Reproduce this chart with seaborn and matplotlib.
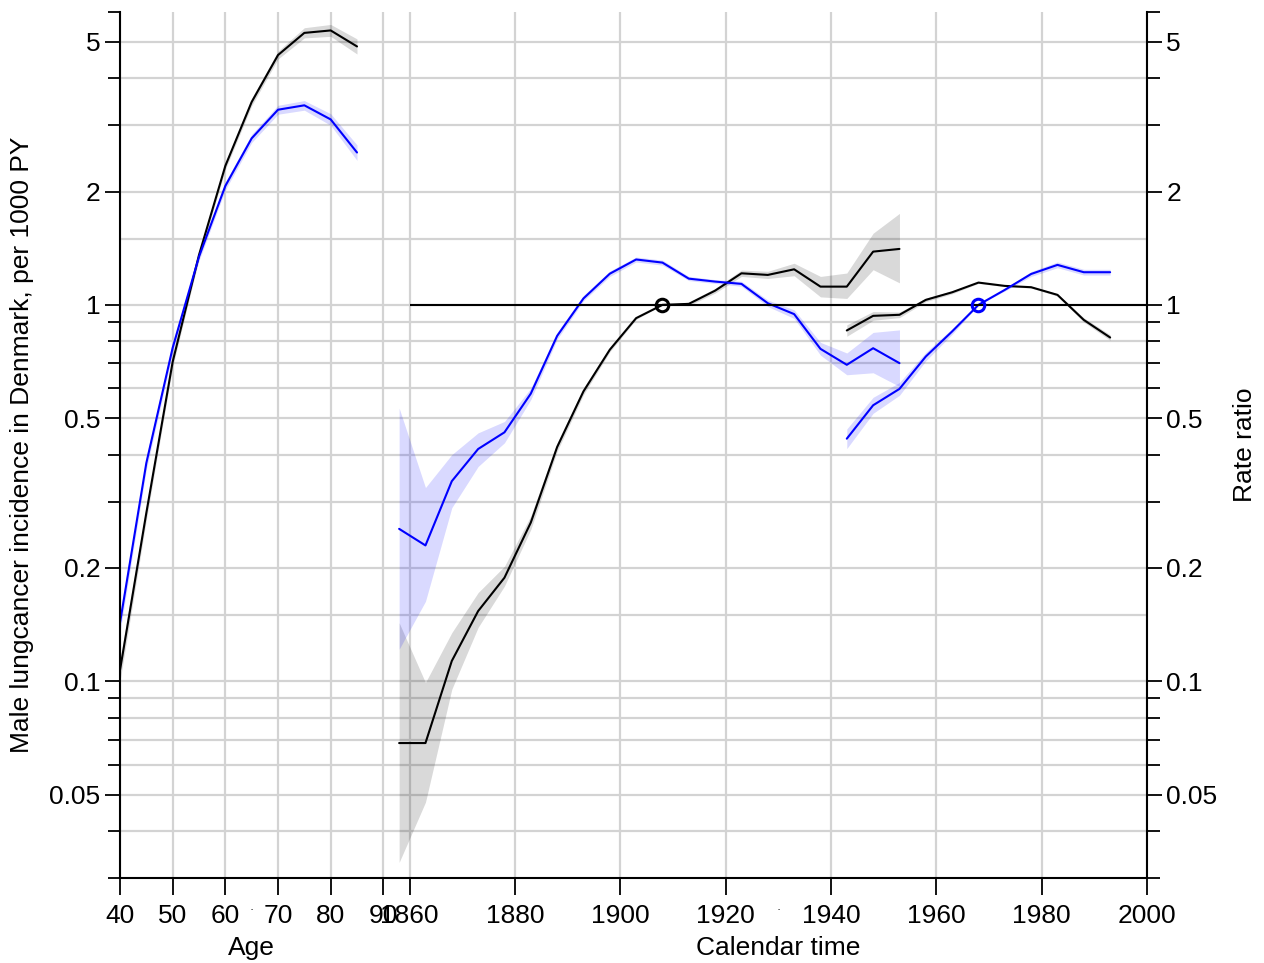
import matplotlib
matplotlib.use("Agg")
import matplotlib.pyplot as plt
import matplotlib.transforms as mtransforms
import numpy as np
import pandas as pd
import seaborn as sns

# ---- Age effects (rates per 1000 PY) ----
age = [40, 45, 50, 55, 60, 65, 70, 75, 80, 85]
age_black = [0.107, 0.28, 0.706, 1.357, 2.34, 3.46, 4.61, 5.28, 5.36, 4.86]
age_black_lo = [0.100, 0.268, 0.685, 1.325, 2.29, 3.38, 4.50, 5.12, 5.17, 4.64]
age_black_hi = [0.114, 0.292, 0.727, 1.39, 2.39, 3.54, 4.72, 5.45, 5.56, 5.09]
age_blue = [0.143, 0.38, 0.769, 1.343, 2.07, 2.77, 3.30, 3.39, 3.11, 2.54]
age_blue_lo = [0.135, 0.365, 0.745, 1.31, 2.02, 2.70, 3.21, 3.29, 3.00, 2.42]
age_blue_hi = [0.151, 0.395, 0.793, 1.376, 2.12, 2.84, 3.39, 3.49, 3.22, 2.66]

# ---- Cohort effects (rate ratios) ----
cohort = [1858, 1863, 1868, 1873, 1878, 1883, 1888, 1893, 1898, 1903,
          1908, 1913, 1918, 1923, 1928, 1933, 1938, 1943, 1948, 1953]
coh_black = [0.0685, 0.0685, 0.1132, 0.1536, 0.1884, 0.264, 0.419, 0.589, 0.760, 0.922,
             1.0, 1.006, 1.091, 1.213, 1.201, 1.243, 1.118, 1.118, 1.385, 1.408]
coh_black_lo = [0.033, 0.0477, 0.0952, 0.139, 0.179, 0.253, 0.408, 0.577, 0.750, 0.915,
                1.0, 0.995, 1.075, 1.19, 1.175, 1.195, 1.05, 1.04, 1.24, 1.144]
coh_black_hi = [0.143, 0.0992, 0.1346, 0.172, 0.202, 0.275, 0.43, 0.601, 0.770, 0.929,
                1.0, 1.017, 1.107, 1.237, 1.228, 1.29, 1.19, 1.215, 1.55, 1.75]
coh_blue = [0.254, 0.2295, 0.340, 0.414, 0.4585, 0.581, 0.827, 1.04, 1.21, 1.32,
            1.295, 1.174, 1.153, 1.137, 1.01, 0.945, 0.764, 0.693, 0.767, 0.700]
coh_blue_lo = [0.1216, 0.163, 0.289, 0.372, 0.43, 0.56, 0.81, 1.025, 1.19, 1.30,
               1.275, 1.16, 1.14, 1.12, 0.99, 0.92, 0.735, 0.652, 0.66, 0.607]
coh_blue_hi = [0.532, 0.327, 0.40, 0.457, 0.49, 0.60, 0.845, 1.06, 1.23, 1.34,
               1.315, 1.19, 1.167, 1.155, 1.03, 0.97, 0.795, 0.745, 0.845, 0.858]

# ---- Period effects (rate ratios) ----
period = [1943, 1948, 1953, 1958, 1963, 1968, 1973, 1978, 1983, 1988, 1993]
per_black = [0.855, 0.935, 0.941, 1.031, 1.08, 1.146, 1.123, 1.114, 1.063, 0.912, 0.819]
per_black_lo = [0.825, 0.91, 0.925, 1.02, 1.07, 1.14, 1.118, 1.108, 1.055, 0.90, 0.805]
per_black_hi = [0.885, 0.96, 0.957, 1.042, 1.09, 1.152, 1.128, 1.12, 1.071, 0.924, 0.833]
per_blue = [0.441, 0.541, 0.598, 0.729, 0.850, 1.0, 1.096, 1.208, 1.277, 1.221, 1.221]
per_blue_lo = [0.415, 0.515, 0.575, 0.71, 0.835, 1.0, 1.088, 1.19, 1.255, 1.20, 1.20]
per_blue_hi = [0.468, 0.568, 0.622, 0.748, 0.865, 1.0, 1.104, 1.226, 1.30, 1.243, 1.243]

# Reference points (rate ratio = 1)
ref_black_cohort = 1908
ref_blue_period = 1968

# ---- Axis layout ----
age_ticks = [40, 50, 60, 70, 80, 90]
cal_ticks = [1860, 1880, 1900, 1920, 1940, 1960, 1980, 2000]
r_major = [5, 2, 1, 0.5, 0.2, 0.1, 0.05]
r_major_labels = ["5", "2", "1", "0.5", "0.2", "0.1", "0.05"]
r_minor = [4, 3, 0.9, 0.8, 0.7, 0.6, 0.4, 0.3, 0.09, 0.08, 0.07, 0.06, 0.04]
r_grid = [5, 4, 3, 2, 1.5, 1, 0.9, 0.8, 0.7, 0.6, 0.5, 0.4, 0.3, 0.2, 0.15,
          0.1, 0.09, 0.08, 0.07, 0.06, 0.05, 0.04]
CP_OFFSET = 1765  # calendar years share the age scale, shifted by this amount

sns.set_theme(style="white")
plt.rcParams["font.family"] = ["Liberation Sans", "DejaVu Sans"]
plt.rcParams["text.color"] = "black"
plt.rcParams["xtick.color"] = "black"
plt.rcParams["ytick.color"] = "black"
plt.rcParams["axes.labelcolor"] = "black"
FS = 19

W, H = 1264, 963
fig = plt.figure(figsize=(W / 100, H / 100), dpi=100)
ax = fig.add_axes([120 / W, (H - 878) / H, 1027 / W, 866 / H])
ax.set_yscale("log")
ax.set_xlim(40, 2000 - CP_OFFSET)
ax.set_ylim(0.03, 6)

grid_col = "#D3D3D3"
x0, x1 = 40, 2000 - CP_OFFSET
ax.hlines(r_grid, x0, x1, color=grid_col, lw=1.6, zorder=0)
ax.vlines(age_ticks + [c - CP_OFFSET for c in cal_ticks], 0.03, 6,
          color=grid_col, lw=1.6, zorder=0)

blue = "#0000FF"
band_black = (0, 0, 0, 0.15)
band_blue = (0, 0, 1, 0.15)


def draw(x, y, lo, hi, color, band, shift=0):
    xs = [v - shift for v in x]
    ax.fill_between(xs, lo, hi, color=band, lw=0, zorder=1)
    df = pd.DataFrame({"x": xs, "y": y})
    sns.lineplot(data=df, x="x", y="y", ax=ax, color=color, lw=1.5,
                 estimator=None, sort=False, zorder=2)


draw(age, age_black, age_black_lo, age_black_hi, "black", band_black)
draw(age, age_blue, age_blue_lo, age_blue_hi, blue, band_blue)
draw(cohort, coh_black, coh_black_lo, coh_black_hi, "black", band_black, CP_OFFSET)
draw(cohort, coh_blue, coh_blue_lo, coh_blue_hi, blue, band_blue, CP_OFFSET)
draw(period, per_black, per_black_lo, per_black_hi, "black", band_black, CP_OFFSET)
draw(period, per_blue, per_blue_lo, per_blue_hi, blue, band_blue, CP_OFFSET)

# Rate ratio reference line and reference points
ax.hlines(1, 1860 - CP_OFFSET, 2000 - CP_OFFSET, color="black", lw=1.5, zorder=3)
ax.plot([ref_black_cohort - CP_OFFSET], [1], "o", ms=9, mfc="none", mec="black",
        mew=2.2, zorder=4)
ax.plot([ref_blue_period - CP_OFFSET], [1], "o", ms=9, mfc="none", mec=blue,
        mew=2.2, zorder=4)

# Frame
ax.spines["top"].set_visible(False)
for s in ["left", "right", "bottom"]:
    ax.spines[s].set_visible(True)
    ax.spines[s].set_color("black")
    ax.spines[s].set_linewidth(1.5)

# Y ticks on both sides
ax.set_yticks(r_major, r_major_labels)
ax.set_yticks(r_minor + [0.03, 6], minor=True)
ax.yaxis.set_minor_formatter(matplotlib.ticker.NullFormatter())
ax.tick_params(axis="y", which="both", left=True, right=True, labelleft=True,
               labelright=True, direction="out", color="black", width=1.3,
               labelsize=FS, labelcolor="black")
ax.tick_params(axis="y", which="major", length=11, pad=3)
ax.tick_params(axis="y", which="minor", length=9)

# X ticks: ages, then calendar years
xt = age_ticks + [c - CP_OFFSET for c in cal_ticks]
xl = [str(a) for a in age_ticks] + [str(c) for c in cal_ticks]
ax.set_xticks(xt, xl)
ax.xaxis.set_minor_locator(matplotlib.ticker.NullLocator())
ax.tick_params(axis="x", which="major", bottom=True, direction="out", length=12,
               width=1.3, color="black", labelsize=FS, pad=7, labelcolor="black")

# Small marks under the axis at the panel centres
trans = mtransforms.blended_transform_factory(ax.transData, fig.transFigure)
for xm in [65, 1930 - CP_OFFSET]:
    ax.text(xm, 1 - 910 / H, "\u00b7", transform=trans, ha="center", va="center",
            fontsize=9, color="black")

ax.set_xlabel("")
ax.set_ylabel("")
fig.text((120 + (65 - 40) * 1027 / 195) / W, 1 - 948 / H, "Age",
         ha="center", va="center", fontsize=FS, color="black")
fig.text((120 + (1930 - CP_OFFSET - 40) * 1027 / 195) / W, 1 - 948 / H,
         "Calendar time", ha="center", va="center", fontsize=FS, color="black")
fig.text(22 / W, 1 - 445 / H, "Male lungcancer incidence in Denmark, per 1000 PY",
         rotation=90, ha="center", va="center", fontsize=FS, color="black")
fig.text(1245 / W, 1 - 445 / H, "Rate ratio", rotation=90, ha="center",
         va="center", fontsize=FS, color="black")

fig.savefig("out.png", dpi=100, facecolor="white")
